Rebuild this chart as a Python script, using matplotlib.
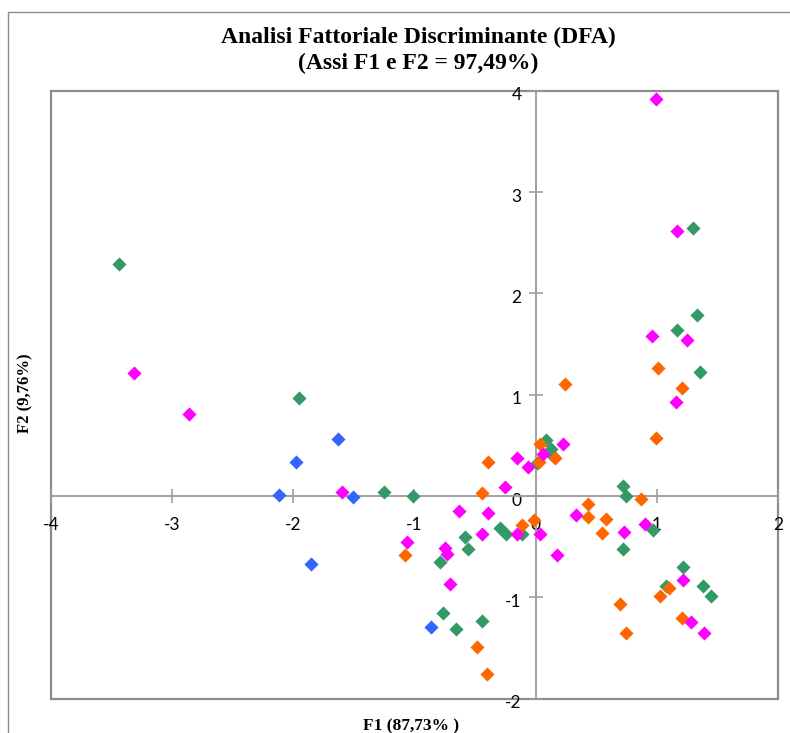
import matplotlib.pyplot as plt
from matplotlib.patches import Rectangle
from matplotlib.transforms import ScaledTranslation

plt.rcParams['axes.unicode_minus'] = False

# DFA scores (F1, F2) per group
blue_f1 = [-2.12, -1.98, -1.63, -1.51, -1.85, -0.86]
blue_f2 = [0.01, 0.34, 0.56, -0.01, -0.67, -1.29]

green_f1 = [-3.44, -1.95, -1.25, -1.01, -0.58, -0.56, -0.79, -0.29, -0.24, -0.11,
            0.01, 0.09, 0.13, 0.14, -0.76, -0.66, -0.44, 0.72, 0.75, 0.97,
            0.72, 1.22, 1.08, 1.38, 1.45, 1.33, 1.17, 1.36, 1.30]
green_f2 = [2.29, 0.97, 0.04, 0.00, -0.40, -0.52, -0.65, -0.32, -0.37, -0.37,
            0.33, 0.55, 0.46, 0.40, -1.15, -1.31, -1.23, 0.10, 0.00, -0.33,
            -0.52, -0.70, -0.89, -0.89, -0.99, 1.79, 1.64, 1.22, 2.65]

magenta_f1 = [-3.31, -2.86, -1.60, -1.06, -0.75, -0.73, -0.71, -0.63, -0.39, -0.44,
              -0.25, -0.15, -0.06, 0.06, 0.23, -0.15, 0.04, 0.18, 0.33, 0.73,
              0.90, 1.22, 1.28, 1.39, 0.96, 1.25, 1.16, 1.17, 0.99]
magenta_f2 = [1.21, 0.81, 0.04, -0.45, -0.51, -0.57, -0.87, -0.15, -0.17, -0.37,
              0.09, 0.38, 0.29, 0.42, 0.51, -0.37, -0.37, -0.58, -0.19, -0.35,
              -0.28, -0.83, -1.24, -1.35, 1.58, 1.54, 0.93, 2.62, 3.92]

orange_f1 = [-1.08, -0.44, -0.39, 0.04, 0.03, 0.16, -0.11, -0.01, -0.48, -0.40,
             0.24, 0.99, 0.87, 0.43, 0.43, 0.58, 0.55, 0.70, 0.75, 1.03,
             1.10, 1.21, 1.01, 1.21]
orange_f2 = [-0.58, 0.03, 0.34, 0.51, 0.34, 0.38, -0.29, -0.24, -1.49, -1.76,
             1.11, 0.57, -0.03, -0.08, -0.21, -0.23, -0.36, -1.07, -1.35, -0.99,
             -0.91, -1.20, 1.26, 1.07]

x_ticks = [-4, -3, -2, -1, 0, 1, 2]
y_ticks = [-2, -1, 0, 1, 2, 3, 4]

W, H = 790, 733
fig = plt.figure(figsize=(W / 100, H / 100), dpi=100)
ax = fig.add_axes([50.7 / W, 1 - 698.7 / H, 727.3 / W, 607.9 / H])

# outer chart frame (cut off at right and bottom in the original)
fig.patches.append(Rectangle((8 / W, -0.1), 1.2, 1 - 12 / H + 0.1, transform=fig.transFigure,
                             fill=False, edgecolor='#8c8c8c', linewidth=1))

ms = 52
ax.scatter(green_f1, green_f2, marker='D', s=ms, color='#339966', linewidths=0, zorder=3)
ax.scatter(orange_f1, orange_f2, marker='D', s=ms, color='#ff6600', linewidths=0, zorder=3)
ax.scatter(magenta_f1, magenta_f2, marker='D', s=ms, color='#ff00ff', linewidths=0, zorder=3)
ax.scatter(blue_f1, blue_f2, marker='D', s=ms, color='#3366ff', linewidths=0, zorder=3)

ax.set_xlim(-4, 2)
ax.set_ylim(-2, 4)
ax.set_xticks(x_ticks)
ax.set_yticks(y_ticks)

# Excel-style axes crossing at the origin
ax.spines['left'].set_position('zero')
ax.spines['bottom'].set_position('zero')
ax.spines['top'].set_visible(False)
ax.spines['right'].set_visible(False)
for s in ['left', 'bottom']:
    ax.spines[s].set_color('#9a9a9a')
    ax.spines[s].set_linewidth(1.3)
# plot-area border, kept beneath the tick labels
ax.add_patch(Rectangle((0, 0), 1, 1, transform=ax.transAxes, fill=False,
                       edgecolor='#8c8c8c', linewidth=1.6, zorder=1, clip_on=False))

ax.tick_params(axis='both', direction='inout', length=10, width=1.1, color='#9a9a9a',
               labelsize=12.5, labelcolor='black')
ax.tick_params(axis='x', pad=10)
ax.tick_params(axis='y', pad=5)
for lab in ax.get_xticklabels():
    lab.set_family('Lato')
shift = ScaledTranslation(0, -3 / 100, fig.dpi_scale_trans)
for lab in ax.get_yticklabels():
    lab.set_family('Lato')
    lab.set_transform(lab.get_transform() + shift)

fig.text(418 / W, 1 - 37 / H, 'Analisi Fattoriale Discriminante (DFA)', ha='center', va='center',
         fontsize=17, fontweight='bold', family='Liberation Serif')
fig.text(418 / W, 1 - 63 / H, '(Assi F1 e F2 = 97,49%)', ha='center', va='center',
         fontsize=17, fontweight='bold', family='Liberation Serif')
fig.text(25 / W, 1 - 393 / H, 'F2 (9,76%)', rotation=90, ha='center', va='center',
         fontsize=12, fontweight='bold', family='Liberation Serif')
fig.text(411 / W, 1 - 726 / H, 'F1 (87,73% )', ha='center', va='center',
         fontsize=12.5, fontweight='bold', family='Liberation Serif')

fig.savefig('out.png', dpi=100)
